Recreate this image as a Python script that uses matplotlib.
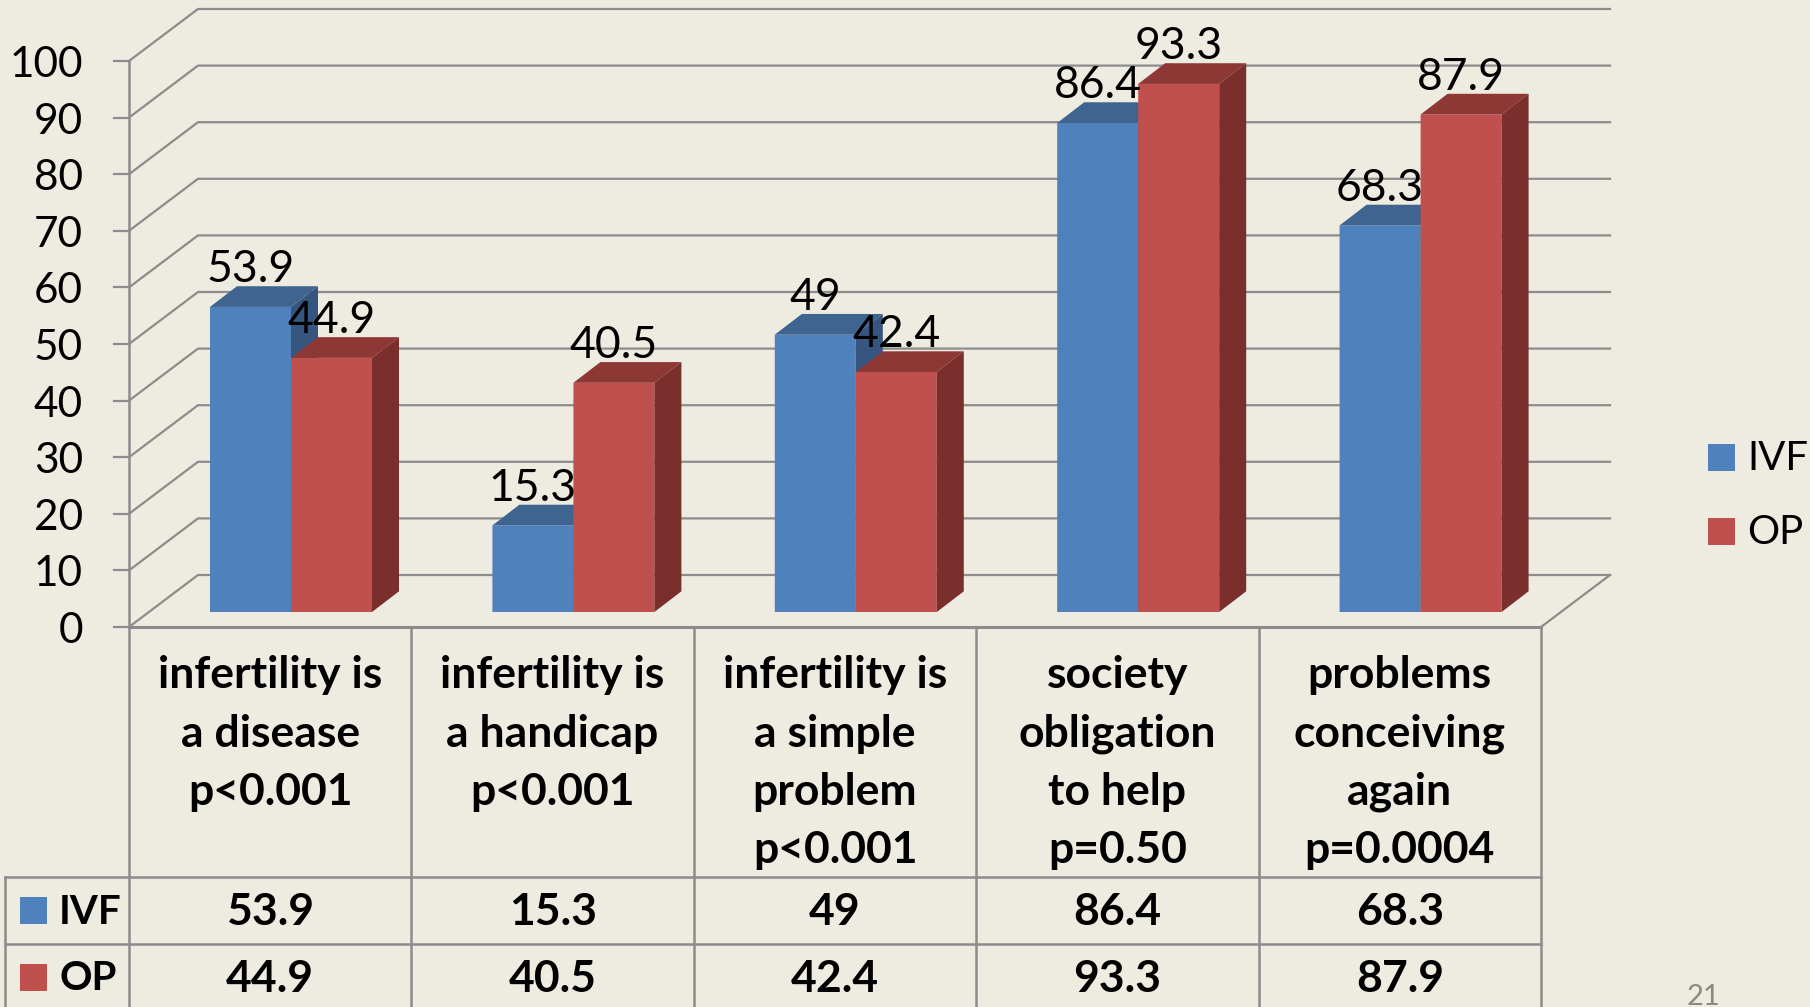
import matplotlib
matplotlib.use('Agg')
import matplotlib.pyplot as plt

plt.rcParams['font.family'] = ['Lato', 'DejaVu Sans']

# data
categories = [
    ['infertility is', 'a disease', 'p<0.001'],
    ['infertility is', 'a handicap', 'p<0.001'],
    ['infertility is', 'a simple', 'problem', 'p<0.001'],
    ['society', 'obligation', 'to help', 'p=0.50'],
    ['problems', 'conceiving', 'again', 'p=0.0004'],
]
ivf = [53.9, 15.3, 49, 86.4, 68.3]
op = [44.9, 40.5, 42.4, 93.3, 87.9]
ivf_text = ['53.9', '15.3', '49', '86.4', '68.3']
op_text = ['44.9', '40.5', '42.4', '93.3', '87.9']
yticks = [0, 10, 20, 30, 40, 50, 60, 70, 80, 90, 100]

BG = '#EEECE1'
GRID = '#8C8C8C'
BLUE = ('#4F81BD', '#3F648F', '#37567F')
RED = ('#C0504D', '#8E3836', '#7B2F2D')

W, H = 1810, 1007
fig = plt.figure(figsize=(W / 100, H / 100), dpi=100, facecolor=BG)

# main axes: x in categories, y in percent
L, R, T, B = 129, 1541, 61, 627
ax = fig.add_axes([L / W, 1 - B / H, (R - L) / W, (B - T) / H])
ax.set_xlim(0, 5)
ax.set_ylim(0, 100)
ax.axis('off')

# depth of the fake 3d box, in data units
cat_px = (R - L) / 5
wall_dx, wall_dy = 69 / cat_px, 52 / 5.66
bar_dx, bar_dy = 27 / cat_px, 20.7 / 5.66
base = 15 / 5.66
bar_w = 81 / cat_px
bar_off = 81 / cat_px

# gridlines: diagonal on the side then along the back wall
for t in yticks:
    ax.plot([0, wall_dx, 5 + wall_dx], [t, t + wall_dy, t + wall_dy],
            color=GRID, lw=1.6, clip_on=False, zorder=1, solid_joinstyle='miter')
    ax.plot([-15 / cat_px, 0], [t, t], color=GRID, lw=1.6, clip_on=False, zorder=1)
ax.plot([5, 5 + wall_dx], [0, wall_dy], color=GRID, lw=1.6, clip_on=False, zorder=1)
ax.plot([0, 5], [0, 0], color=GRID, lw=2.2, clip_on=False, zorder=1)


def bar3d(x, v, cols, z):
    top = base + v
    ax.bar(x, v, width=bar_w, bottom=base, align='edge', color=cols[0], zorder=z, clip_on=False, snap=False)
    ax.fill([x, x + bar_dx, x + bar_w + bar_dx, x + bar_w],
            [top, top + bar_dy, top + bar_dy, top], color=cols[1], lw=0, zorder=z, clip_on=False)
    ax.fill([x + bar_w, x + bar_w + bar_dx, x + bar_w + bar_dx, x + bar_w],
            [base, base + bar_dy, top + bar_dy, top], color=cols[2], lw=0, zorder=z, clip_on=False)


for i in range(5):
    x1 = i + bar_off
    x2 = x1 + bar_w
    bar3d(x1, ivf[i], BLUE, 3)
    bar3d(x2, op[i], RED, 4)
    ax.text(x1 + bar_w / 2, base + ivf[i] + 6.6, ivf_text[i], fontsize=32, color='black',
            ha='center', va='center', zorder=6)
    ax.text(x2 + bar_w / 2, base + op[i] + 6.6, op_text[i], fontsize=32, color='black',
            ha='center', va='center', zorder=6)

for t in yticks:
    ax.text(-46 / cat_px, t - 0.7, str(t), fontsize=30.5, color='black', ha='right', va='center', clip_on=False)

# table and legends are drawn in pixels on an overlay
px = fig.add_axes([0, 0, 1, 1])
px.set_xlim(0, W)
px.set_ylim(H, 0)
px.axis('off')
px.patch.set_alpha(0)

col_x = [L + (R - L) / 5 * i for i in range(6)]
for x in col_x:
    px.plot([x, x], [B if x != L else T, H], color=GRID, lw=1.8, zorder=1)
for y in [877, 944]:
    px.plot([5, R], [y, y], color=GRID, lw=1.8, zorder=1)
px.plot([5, 5], [877, H], color=GRID, lw=1.8, zorder=1)

line_y = [675, 734, 792, 850]
for i, lines in enumerate(categories):
    cx = (col_x[i] + col_x[i + 1]) / 2
    for j, s in enumerate(lines):
        px.text(cx, line_y[j], s, fontsize=32, fontweight='bold', ha='center', va='center')
    px.text(cx, 912, ivf_text[i], fontsize=32, fontweight='bold', ha='center', va='center')
    px.text(cx, 979, op_text[i], fontsize=32, fontweight='bold', ha='center', va='center')

# legend keys inside the table
for name, col, y in [('IVF', BLUE[0], 910), ('OP', RED[0], 977)]:
    px.fill([20, 47, 47, 20], [y - 13.5, y - 13.5, y + 13.5, y + 13.5], color=col, lw=0)
    px.text(59, y + 2, name, fontsize=29, fontweight='bold', ha='left', va='center')

# legend on the right
for name, col, y in [('IVF', BLUE[0], 457), ('OP', RED[0], 531)]:
    px.fill([1708, 1735, 1735, 1708], [y - 13.5, y - 13.5, y + 13.5, y + 13.5], color=col, lw=0)
    px.text(1747, y + 1, name, fontsize=29, ha='left', va='center')

px.text(1703, 997, '21', fontsize=21, color='#8C8A80', ha='center', va='center')

fig.savefig('out.png', dpi=100, facecolor=BG)
